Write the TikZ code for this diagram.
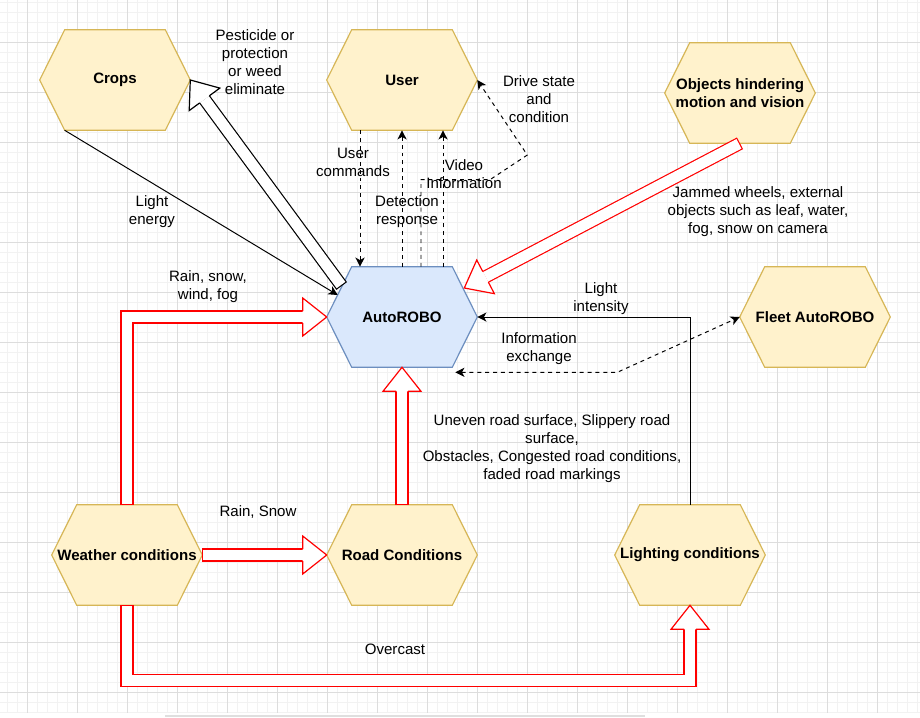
\documentclass[tikz,border=0pt]{standalone}
\usepackage{fontspec}
\setmainfont{Liberation Sans}
\usetikzlibrary{calc,arrows.meta,backgrounds}
\definecolor{yelfill}{HTML}{FFF2CC}
\definecolor{yelline}{HTML}{D6B656}
\definecolor{blufill}{HTML}{DAE8FC}
\definecolor{bluline}{HTML}{6C8EBF}
\definecolor{gridminor}{HTML}{F2F2F2}
\definecolor{gridmajor}{HTML}{DDDDDD}

% wide hollow arrow: colour, start of path, point behind the head, tip
\newcommand{\flexarrow}[4]{%
\coordinate (hb) at ($(#4)!0.6cm!(#3)$);
\draw[flexbody=#1] #2 (hb);
\filldraw[fill=white,draw=#1,line width=0.85pt,line join=miter] ($(hb)!0.15cm!90:(#4)$) -- ($(hb)!0.475cm!90:(#4)$) -- (#4) -- ($(hb)!0.475cm!-90:(#4)$) -- ($(hb)!0.15cm!-90:(#4)$);
}

\tikzset{
hexa/.style={minimum width=3.75cm, minimum height=2.5cm, inner sep=0pt, align=center, font=\fontsize{10.7}{12.8}\selectfont\bfseries},
lbl/.style={inner sep=0pt, align=center, font=\fontsize{10.7}{12.8}\selectfont},
flexbody/.style={draw=#1, line width=9.35pt, line join=miter, postaction={draw=white, line width=7.65pt, shorten <=0.85pt}},
conn/.style={line width=0.7pt, -{Stealth[length=6.5pt,width=6.5pt,inset=1.8pt]}},
dashconn/.style={conn, dash pattern=on 2.8pt off 2.8pt}
}

\begin{document}
\begin{tikzpicture}[x=0.025cm,y=-0.025cm]
\useasboundingbox (0,0) rectangle (920,717);
% hexagon nodes
\node[hexa] (crops) at (115,80) {Crops};
\node[hexa] (user) at (402,80) {User};
\node[hexa] (objects) at (740,93) {Objects hindering\\motion and vision};
\node[hexa] (auto) at (402,317) {AutoROBO};
\node[hexa] (fleet) at (815,317) {Fleet AutoROBO};
\node[hexa] (weather) at (127,555) {Weather conditions};
\node[hexa] (road) at (402,555) {Road Conditions};
\node[hexa] (light) at (690,555) {Lighting conditions};

\begin{scope}[on background layer]
\fill[white] (0,0) rectangle (920,717);
\foreach \x in {7,17,...,917} \draw[gridminor,line width=0.7pt] (\x,0) -- (\x,713);
\foreach \y in {2,12,...,712} \draw[gridminor,line width=0.7pt] (0,\y) -- (920,\y);
\foreach \x in {27,77,...,877} \draw[gridmajor,line width=0.7pt] (\x,0) -- (\x,713);
\foreach \y in {42,92,...,692} \draw[gridmajor,line width=0.7pt] (0,\y) -- (920,\y);
\draw[gray!25,line width=1.4pt] (165,716) -- (645,716);
\foreach \n/\f/\d in {crops/yelfill/yelline,user/yelfill/yelline,objects/yelfill/yelline,auto/blufill/bluline,fleet/yelfill/yelline,weather/yelfill/yelline,road/yelfill/yelline,light/yelfill/yelline}
\filldraw[fill=\f,draw=\d,line width=0.85pt] (\n.west) -- ([xshift=0.625cm]\n.north west) -- ([xshift=-0.625cm]\n.north east) -- (\n.east) -- ([xshift=-0.625cm]\n.south east) -- ([xshift=0.625cm]\n.south west) -- cycle;
\end{scope}

% helper points on the hexagon edges
\coordinate (le) at ($(auto.west)+(11,-22)$);
\coordinate (ct) at ($(auto.west)+(15,-31)$);
\coordinate (ot) at ($(auto.east)+(-13,-29)$);
\coordinate (wa) at (weather.north |- auto.west);
\coordinate (ocb) at ($(light.south)+(0,75)$);
\coordinate (dr0) at ($(auto.north)+(19,0)$);
\coordinate (dr1) at ($(auto.north)+(88,-87)$);
\coordinate (dr2) at ($(user.east)+(50,75)$);
\coordinate (ix) at ($(auto.south east)+(-22,5)$);

% wide arrows
\flexarrow{black}{(ct) --}{ct}{crops.east}
\flexarrow{red}{(objects.south) --}{objects.south}{ot}
\flexarrow{red}{(weather.north) |-}{wa}{auto.west}
\flexarrow{red}{(road.north) --}{road.north}{auto.south}
\flexarrow{red}{(weather.east) --}{weather.east}{road.west}
\flexarrow{red}{(weather.south) |- (ocb) --}{ocb}{light.south}

% plain connectors
\draw[conn] ($(crops.south west)+(25,0)$) -- (le);
\draw[dashconn] ($(user.south)+(-42,0)$) -- ($(auto.north)+(-42,0)$);
\draw[dashconn] (auto.north) -- (user.south);
\draw[dashconn] ($(auto.north)+(41,0)$) -- ($(user.south)+(41,0)$);
\draw[dashconn] (dr0) |- (dr1) -- (dr2) -- (user.east);
\draw[conn] (light.north) |- (auto.east);
\draw[dashconn,{Stealth[length=6.5pt,width=6.5pt,inset=1.8pt]}-{Stealth[length=6.5pt,width=6.5pt,inset=1.8pt]}] (ix) -- ($(ix)+(162,0)$) -- (fleet.west);

% labels
\node[lbl] (pest) at (255,62) {Pesticide or\\protection\\or weed\\eliminate};
\node[lbl] (lenergy) at (152,212) {Light\\energy};
\node[lbl] (ucmd) at (353,162) {User\\commands};
\node[lbl] (detect) at (407,212) {Detection\\response};
\node[lbl] (video) at (464,174) {Video\\Information};
\node[lbl] (drive) at (539,99) {Drive state\\and\\condition};
\node[lbl] (jammed) at (758,212) {Jammed wheels, external\\objects such as leaf, water,\\fog, snow on camera};
\node[lbl] (rainwind) at (208,287) {Rain, snow,\\wind, fog};
\node[lbl] (lint) at (601,299) {Light\\intensity};
\node[lbl] (info) at (539,349) {Information\\exchange};
\node[lbl] (uneven) at (552,449) {Uneven road surface, Slippery road\\surface,\\Obstacles, Congested road conditions,\\faded road markings};
\node[lbl] (rainsnow) at (258,512) {Rain, Snow};
\node[lbl] (overcast) at (395,649) {Overcast};
\end{tikzpicture}
\end{document}
